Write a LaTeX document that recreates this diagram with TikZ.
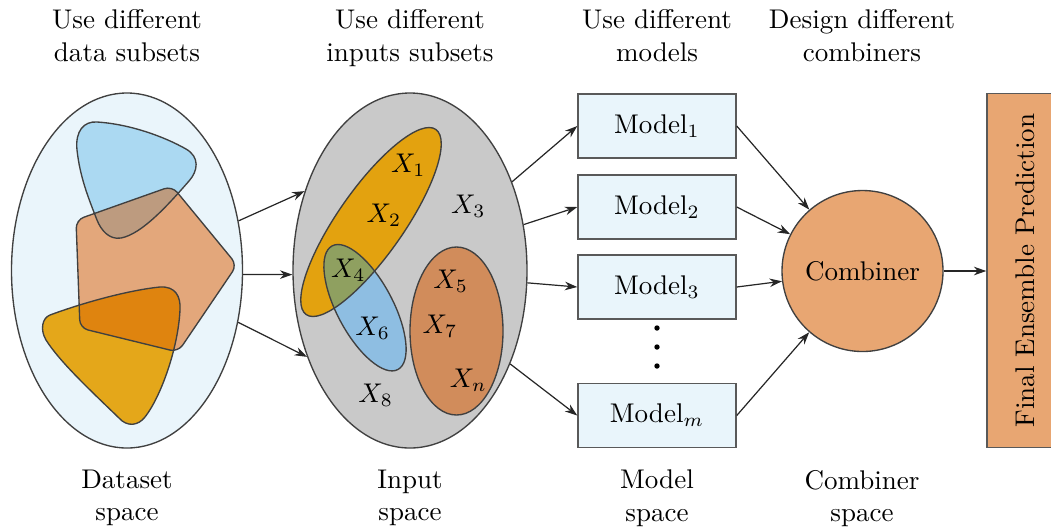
\documentclass[tikz,border=0pt]{standalone}
\usepackage{graphicx}
\usetikzlibrary{arrows.meta,shapes.geometric}
\definecolor{dsbg}{HTML}{EAF5FB}
\definecolor{blobblue}{HTML}{ABD9F2}
\definecolor{blobpent}{HTML}{E3A77B}
\definecolor{blobbp}{HTML}{BD9B7F}
\definecolor{blobyel}{HTML}{E4A71A}
\definecolor{blobyp}{HTML}{DF840F}
\definecolor{inpgray}{HTML}{C9C9C9}
\definecolor{inor}{HTML}{E3A20F}
\definecolor{inblue}{HTML}{8EBEE2}
\definecolor{ingreen}{HTML}{8FA060}
\definecolor{inbrown}{HTML}{D18C5B}
\definecolor{modelbg}{HTML}{E9F5FB}
\definecolor{combfill}{HTML}{E8A672}
\begin{document}
\begin{tikzpicture}[x=0.37pt,y=-0.37pt,
  arr/.style={-{Stealth[length=4.6pt,width=3.2pt]}, line width=0.45pt, black!85},
  outl/.style={draw=black!75, line width=0.5pt},
  modelbox/.style={rectangle, draw=black!65, fill=modelbg, line width=0.55pt,
    minimum width=58.46pt, minimum height=23.68pt, inner sep=0pt},
  head/.style={align=center, anchor=north, inner sep=0pt},
  xl/.style={inner sep=0pt}]
\useasboundingbox (0,0) rectangle (1051,529);

\def\bluepath{(97,122) .. controls (130,124) and (165,137) .. (186,149)
 .. controls (200,157) and (198,171) .. (189,181)
 .. controls (168,205) and (142,234) .. (121,238)
 .. controls (109,240) and (101,230) .. (97,220)
 .. controls (88,197) and (80,177) .. (77,150)
 .. controls (75,131) and (84,121) .. (97,122) -- cycle}
\def\pentpath{(124,203) -- (172,186) -- (237,265) -- (178,352) -- (80,328) -- (76,220) -- cycle}
\def\yelpath{(50,315) .. controls (85,302) and (130,290) .. (160,287)
 .. controls (175,286) and (181,296) .. (180,310)
 .. controls (178,350) and (160,398) .. (145,417)
 .. controls (138,426) and (127,427) .. (119,418)
 .. controls (90,390) and (60,362) .. (46,340)
 .. controls (40,330) and (42,318) .. (50,315) -- cycle}

% headings
\node[head] (h1) at (127,9.3) {Use different\\data subsets};
\node[head] (h2) at (410,9.3) {Use different\\inputs subsets};
\node[head] (h3) at (657,9.3) {Use different\\models};
\node[head] (h4) at (862,9.3) {Design different\\combiners};
\node[head] (b1) at (127,469.5) {Dataset\\space};
\node[head] (b2) at (410,469.5) {Input\\space};
\node[head] (b3) at (657,469.5) {Model\\space};
\node[head] (b4) at (862,469.5) {Combiner\\space};

% dataset space
\node[ellipse, draw=black!75, line width=0.5pt, fill=dsbg, minimum width=85.47pt,
  minimum height=131.35pt, inner sep=0pt] (dset) at (127,270.5) {};
\fill[blobblue] \bluepath;
\fill[blobpent, rounded corners=3pt] \pentpath;
\fill[blobyel] \yelpath;
\begin{scope}
  \clip[rounded corners=3pt] \pentpath;
  \fill[blobbp] \bluepath;
  \fill[blobyp] \yelpath;
\end{scope}
\draw[black!75, line width=0.5pt] \bluepath;
\draw[black!75, line width=0.5pt, rounded corners=3pt] \pentpath;
\draw[black!75, line width=0.5pt] \yelpath;

% input space
\node[ellipse, draw=black!75, line width=0.5pt, fill=inpgray, minimum width=86.58pt,
  minimum height=131.35pt, inner sep=0pt] (inp) at (410,270.5) {};
\fill[inor, rotate around={55:(371,222)}] (371,222) ellipse [x radius=113, y radius=33];
\fill[inblue, rotate around={-62:(365,307.7)}] (365,307.7) ellipse [x radius=70, y radius=28];
\begin{scope}
  \clip[rotate around={55:(371,222)}] (371,222) ellipse [x radius=113, y radius=33];
  \fill[ingreen, rotate around={-62:(365,307.7)}] (365,307.7) ellipse [x radius=70, y radius=28];
\end{scope}
\draw[black!75, line width=0.5pt, rotate around={55:(371,222)}] (371,222) ellipse [x radius=113, y radius=33];
\draw[black!75, line width=0.5pt, rotate around={-62:(365,307.7)}] (365,307.7) ellipse [x radius=70, y radius=28];
\draw[black!75, line width=0.5pt, fill=inbrown] (456.5,331) ellipse [x radius=46.5, y radius=84];

\node[xl] (x1) at (408.3,165) {$X_1$};
\node[xl] (x2) at (384,215) {$X_2$};
\node[xl] (x3) at (468.3,206.7) {$X_3$};
\node[xl] (x4) at (348.3,270.7) {$X_4$};
\node[xl] (x5) at (450.7,281.7) {$X_5$};
\node[xl] (x6) at (372.7,328.3) {$X_6$};
\node[xl] (x7) at (440,326.7) {$X_7$};
\node[xl] (xn) at (468.3,380) {$X_n$};
\node[xl] (x8) at (375.7,395) {$X_8$};

% models
\node[modelbox] (m1) at (657,126) {Model$_1$};
\node[modelbox] (m2) at (657,207) {Model$_2$};
\node[modelbox] (m3) at (657,287) {Model$_3$};
\node[modelbox] (mm) at (657,415.5) {Model$_m$};
\fill[black] (657,328) circle [radius=2.7];
\fill[black] (657,347) circle [radius=2.7];
\fill[black] (657,366) circle [radius=2.7];

% combiner
\node[circle, draw=black!75, line width=0.5pt, fill=combfill, minimum size=59.57pt,
  inner sep=0pt] (comb) at (862.5,271) {Combiner};
\node[rectangle, rotate=90, draw=black!65, line width=0.55pt, fill=combfill,
  minimum width=130.98pt, minimum height=28.12pt, inner sep=0pt] (final) at (1025,270.5)
  {Final Ensemble Prediction};

% connectors
\draw[arr] (dset.24) -- (inp.143);
\draw[arr] (dset.-2) -- (inp.182);
\draw[arr] (dset.-25) -- (inp.220);
\draw[arr] (inp.41) -- (m1.west);
\draw[arr] (inp.22) -- (m2.west);
\draw[arr] (inp.-6) -- (m3.west);
\draw[arr] (inp.-43) -- (mm.west);
\draw[arr] (m1.east) -- (comb);
\draw[arr] (m2.east) -- (comb);
\draw[arr] (m3.east) -- (comb);
\draw[arr] (mm.east) -- (comb);
\draw[arr] (comb.east) -- (comb.east -| final.north);
\end{tikzpicture}
\end{document}
